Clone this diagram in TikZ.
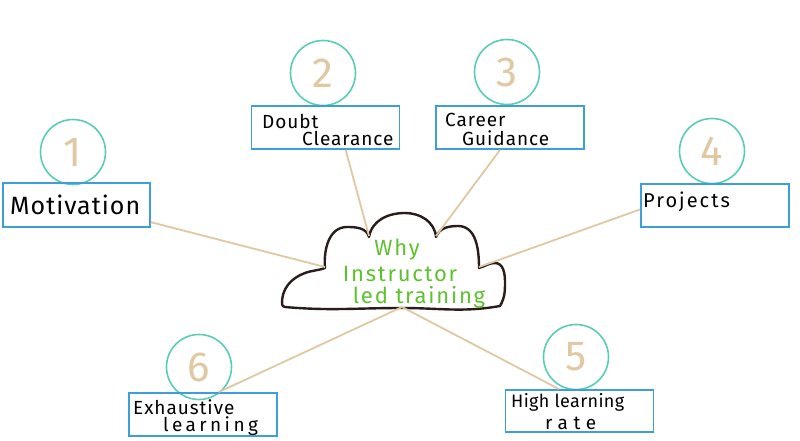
\documentclass[tikz,border=0pt]{standalone}
\usepackage{fontspec}
\setmainfont{Fira Sans}
\newcommand\lsp[1]{\addfontfeature{LetterSpace=#1}}
\definecolor{tealc}{HTML}{5ACDB6}
\definecolor{boxblue}{HTML}{3E9ED8}
\definecolor{tan}{HTML}{E0C8A2}
\definecolor{greentext}{HTML}{5EC22E}
\definecolor{cloudc}{HTML}{2B1C1C}
\begin{document}
\begin{tikzpicture}[x=1pt,y=1pt,
  numcircle/.style={circle,draw=tealc,line width=1.6pt,minimum size=65pt,inner sep=0pt,text=tan,font=\fontsize{42}{42}\selectfont},
  labelbox/.style={rectangle,draw=boxblue,line width=1.8pt,minimum width=148pt,minimum height=43pt,inner sep=0pt},
  boxtext/.style={anchor=west,inner sep=0pt,text=black},
  bigtext/.style={boxtext,font=\fontsize{25}{27}\selectfont\lsp{4}},
  smalltext/.style={boxtext,font=\fontsize{19}{21}\selectfont\lsp{5}},
  greenline/.style={text=greentext,inner sep=0pt,font=\fontsize{22}{24}\selectfont\lsp{8}},
  link/.style={draw=tan,line width=1.8pt}]
\useasboundingbox (0,0) rectangle (800,440);
\fill[white] (0,0) rectangle (800,440);

% cloud
\draw[cloudc,line width=2.4pt,line join=round]
  (282,136) to[out=92,in=200] (305,167) to[out=20,in=200] (325,172)
  to[out=95,in=180] (347,213) to[out=0,in=105] (369,203)
  to[out=80,in=180] (405,227) to[out=0,in=95] (436,203)
  to[out=70,in=180] (458,214) to[out=0,in=90] (479,172)
  to[out=15,in=180] (495,177) to[out=0,in=90] (505,158)
  to[out=-90,in=60] (500,134)
  to[out=190,in=0] (402,132) to[out=180,in=-5] (285,133)
  to[out=175,in=-88] cycle;
\coordinate (cl1) at (325,173);
\coordinate (cl2) at (369,204);
\coordinate (cl3) at (436,204);
\coordinate (cl4) at (479,173);
\coordinate (clb) at (402,133);

\node[greenline] (why) at (397,190) {Why};
\node[greenline] (instr) at (400,166) {Instructor};
\node[greenline] (led) at (419,143) {led training};

% circles
\node[numcircle] (n1) at (73,288) {1};
\node[numcircle] (n2) at (323,367) {2};
\node[numcircle] (n3) at (507,368) {3};
\node[numcircle] (n4) at (712,289) {4};
\node[numcircle] (n5) at (576,83) {5};
\node[numcircle] (n6) at (199,73) {6};

% boxes
\node[labelbox,minimum width=147pt,minimum height=44pt] (mot) at (76.5,235) {};
\node[labelbox] (dc) at (325.5,312.5) {};
\node[labelbox] (cg) at (510,312.5) {};
\node[labelbox] (pj) at (715,234.5) {};
\node[labelbox] (ex) at (203,25.5) {};
\node[labelbox,minimum height=42pt] (hl) at (579.5,29) {};

% texts
\node[bigtext] (tmot) at (10,235) {Motivation};
\node[smalltext] (tdc1) at (262,319) {Doubt};
\node[smalltext] (tdc2) at (302,302) {Clearance};
\node[smalltext] (tcg1) at (445,320) {Career};
\node[smalltext] (tcg2) at (462,302) {Guidance};
\node[smalltext,font=\fontsize{20}{22}\selectfont\lsp{10}] (tpj) at (643,238) {Projects};
\node[smalltext] (tex1) at (133,33) {Exhaustive};
\node[smalltext,font=\fontsize{19}{21}\selectfont\lsp{18}] (tex2) at (163,14) {learning};
\node[smalltext,font=\fontsize{18}{20}\selectfont\lsp{2}] (thl1) at (511,38) {High learning};
\node[smalltext,font=\fontsize{19}{21}\selectfont\lsp{30}] (thl2) at (545,17) {rate};

% connectors
\draw[link] (mot.-13) -- (cl1);
\draw[link] (dc.-48) -- (cl2);
\draw[link] (cg.-114) -- (cl3);
\draw[link] (pj.183.5) -- (cl4);
\draw[link] (ex.55) -- (clb);
\draw[link] (hl.133) -- (clb);
\end{tikzpicture}
\end{document}
